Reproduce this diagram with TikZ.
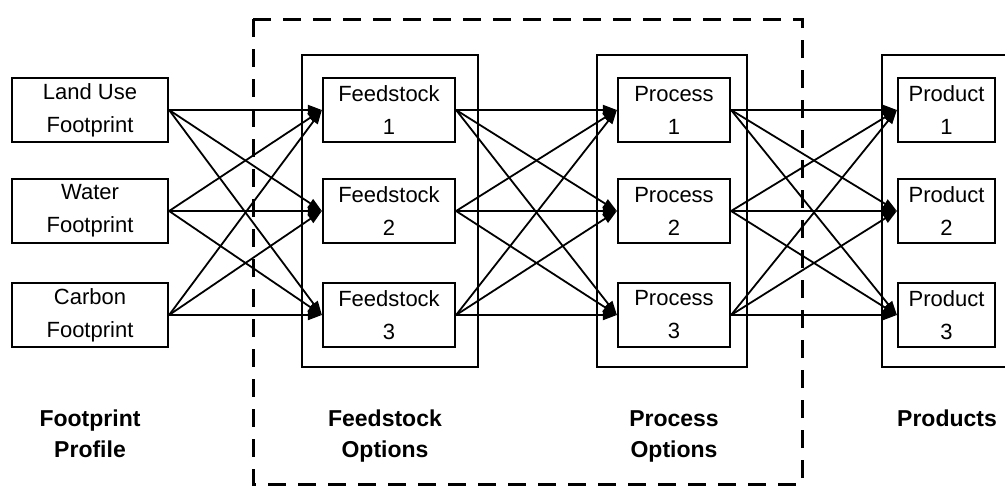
\documentclass[tikz,border=0pt]{standalone}
\usepackage{fontspec}
\setmainfont{Liberation Sans}
\usetikzlibrary{arrows.meta}
\begin{document}
\begin{tikzpicture}[x=1pt,y=-1pt,
  box/.style={draw, line width=2.2pt, minimum height=64pt, inner sep=0pt,
    align=center, font=\fontsize{22}{33}\selectfont},
  frame/.style={draw, line width=2pt, minimum height=312pt, inner sep=0pt},
  link/.style={line width=1.8pt, -{Triangle[length=14pt,width=10pt]}},
  heading/.style={font=\fontsize{23}{31}\selectfont\bfseries, align=center,
    anchor=north, inner sep=0pt},
  stage/.style={draw, line width=3pt, dash pattern=on 18pt off 12pt}]
\useasboundingbox (0,0) rectangle (1005,488);

% group frames
\node[frame, minimum width=176pt] (fgroup) at (390,211) {};
\node[frame, minimum width=150pt] (pgroup) at (672,211) {};
\node[frame, minimum width=160pt] (rgroup) at (962,211) {};

% footprint profile
\node[box, minimum width=156pt] (land)   at (90,110) {Land Use\\Footprint};
\node[box, minimum width=156pt] (water)  at (90,211) {Water\\Footprint};
\node[box, minimum width=156pt] (carbon) at (90,315) {Carbon\\Footprint};

% feedstock options
\node[box, minimum width=132pt] (f1) at (389,110) {Feedstock\\1};
\node[box, minimum width=132pt] (f2) at (389,211) {Feedstock\\2};
\node[box, minimum width=132pt] (f3) at (389,315) {Feedstock\\3};

% process options
\node[box, minimum width=112pt] (p1) at (674,110) {Process\\1};
\node[box, minimum width=112pt] (p2) at (674,211) {Process\\2};
\node[box, minimum width=112pt] (p3) at (674,315) {Process\\3};

% products
\node[box, minimum width=97pt] (r1) at (946.5,110) {Product\\1};
\node[box, minimum width=97pt] (r2) at (946.5,211) {Product\\2};
\node[box, minimum width=97pt] (r3) at (946.5,315) {Product\\3};

% every stage feeds every option of the next stage
\foreach \s in {land,water,carbon}
  \foreach \t in {f1,f2,f3}
    \draw[link] (\s.east) -- (\t.west);
\foreach \s in {f1,f2,f3}
  \foreach \t in {p1,p2,p3}
    \draw[link] (\s.east) -- (\t.west);
\foreach \s in {p1,p2,p3}
  \foreach \t in {r1,r2,r3}
    \draw[link] (\s.east) -- (\t.west);

% dashed boundary round the feedstock and process stages
\draw[stage] (253,19) rectangle (802,484);

% stage headings
\node[heading] (hfoot) at (90,410)  {Footprint\\Profile};
\node[heading] (hfeed) at (385,410) {Feedstock\\Options};
\node[heading] (hproc) at (674,410) {Process\\Options};
\node[heading] (hprod) at (947,410) {Products};
\end{tikzpicture}
\end{document}
